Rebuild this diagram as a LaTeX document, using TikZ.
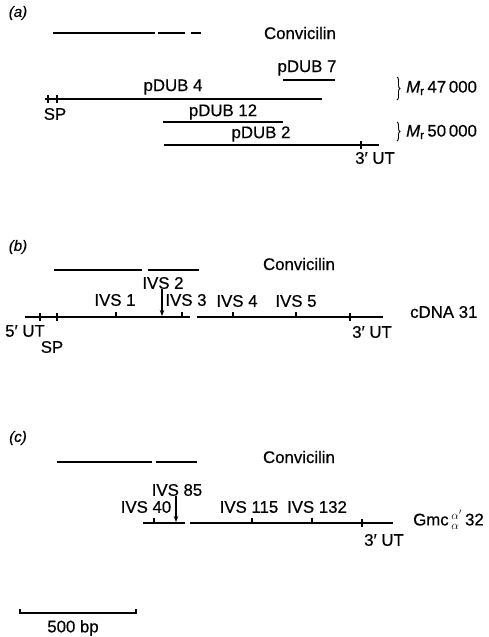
\documentclass[tikz,border=0pt]{standalone}
\usepackage{fontspec}
\setmainfont{Liberation Sans}[FakeBold=0.5]
\usetikzlibrary{arrows.meta,decorations.pathreplacing}
\begin{document}
\begin{tikzpicture}[x=1pt,y=-1pt,
  bar/.style={line width=2pt},
  seq/.style={line width=2pt},
  tick/.style={line width=1.2pt},
  lbl/.style={inner sep=0pt, font=\fontsize{16.8}{20}\selectfont},
  panel/.style={inner sep=0pt, font=\fontsize{15}{18}\selectfont\itshape},
  pointer/.style={line width=1.2pt, -{Stealth[length=6pt,width=4.5pt]}},
  brc/.style={decorate, decoration={brace, amplitude=3pt}, line width=0.9pt}]
\useasboundingbox (0,0) rectangle (488,637);

% ---------------- (a) clones ----------------
\node[panel] (pa) at (18,13) {(a)};
\node[lbl] (conva) at (300,33) {Convicilin};
\draw[bar] (53,33) -- (155,33);
\draw[bar] (158,33) -- (185,33);
\draw[bar] (191,33) -- (201,33);

\node[lbl] (dub7) at (307,68) {pDUB 7};
\draw[bar] (283,80) -- (335,80);

\node[lbl] (dub4) at (173,87) {pDUB 4};
\draw[bar] (45,99) -- (322,99);
\draw[tick] (48,95) -- (48,103);
\draw[tick] (57,95) -- (57,103);
\node[lbl] (spa) at (55,114) {SP};

\node[lbl] (dub12) at (223,112) {pDUB 12};
\draw[bar] (163,122) -- (283,122);

\node[lbl] (dub2) at (261,134) {pDUB 2};
\draw[bar] (164,145) -- (379,145);
\draw[tick] (361,141) -- (361,149);
\node[lbl] (uta) at (375,158) {3′ UT};

\draw[brc] (397,77) -- (397,100);
\node[lbl, anchor=west] (mr47) at (406,88) {{\itshape M}\textsubscript{r}\,47\,000};
\draw[brc] (397,122) -- (397,141);
\node[lbl, anchor=west] (mr50) at (406,132) {{\itshape M}\textsubscript{r}\,50\,000};

% ---------------- (b) cDNA 31 ----------------
\node[panel] (pb) at (18,247) {(b)};
\node[lbl] (convb) at (299,264) {Convicilin};
\draw[bar] (54,270) -- (142,270);
\draw[bar] (148,270) -- (199,270);

\draw[seq] (25,317) -- (190,317);
\draw[seq] (197,317) -- (383,317);
\draw[tick] (40,313) -- (40,321);
\draw[tick] (57,313) -- (57,321);
\draw[tick] (116,312) -- (116,317);
\draw[tick] (182,312) -- (182,317);
\draw[tick] (233,312) -- (233,317);
\draw[tick] (296,312) -- (296,317);
\draw[tick] (350,313) -- (350,321);

\node[lbl] (ivs1) at (115,300) {IVS 1};
\node[lbl] (ivs2) at (163,283) {IVS 2};
\node[lbl] (ivs3) at (186,300) {IVS 3};
\node[lbl] (ivs4) at (237,301) {IVS 4};
\node[lbl] (ivs5) at (296,301) {IVS 5};
\coordinate (b2) at (162,316);
\draw[pointer] (ivs2.south -| b2) -- (b2);

\node[lbl, anchor=west] (cdna) at (410,312) {cDNA 31};
\node[lbl] (utb5) at (25,331) {5′ UT};
\node[lbl] (spb) at (52,347) {SP};
\node[lbl] (utb3) at (372,332) {3′ UT};

% ---------------- (c) Gmc 32 ----------------
\node[panel] (pc) at (18,438) {(c)};
\node[lbl] (convc) at (299,457) {Convicilin};
\draw[bar] (57,462) -- (152,462);
\draw[bar] (156,462) -- (197,462);

\draw[seq] (143,523) -- (185,523);
\draw[seq] (190,523) -- (393,523);
\draw[tick] (154,518) -- (154,523);
\draw[tick] (252,518) -- (252,523);
\draw[tick] (312,518) -- (312,523);
\draw[tick] (362,519) -- (362,527);

\node[lbl] (ivs85) at (177,490) {IVS 85};
\node[lbl] (ivs40) at (146,507) {IVS 40};
\node[lbl] (ivs115) at (249,507) {IVS 115};
\node[lbl] (ivs132) at (317,507) {IVS 132};
\coordinate (c85) at (176,522);
\draw[pointer] (ivs85.south -| c85) -- (c85);

\node[lbl, anchor=west] (gmc) at (413,520) {Gmc\,$^{\alpha'}_{\alpha}$\,32};
\node[lbl] (utc) at (384,540) {3′ UT};

% ---------------- scale bar ----------------
\draw[line width=1.2pt] (20,609) -- (20,613) -- (136,613) -- (136,609);
\node[lbl] (scale) at (73,628) {500 bp};
\end{tikzpicture}
\end{document}
